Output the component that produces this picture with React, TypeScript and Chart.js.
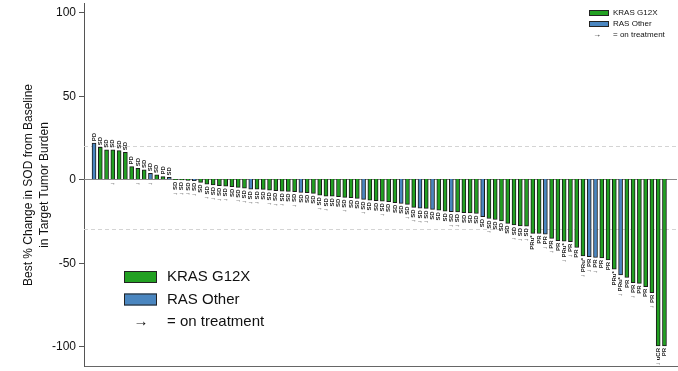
import React, { useEffect, useRef } from "react";
import { Chart, registerables } from "chart.js";

Chart.register(...registerables);

// Best % change in SOD, sorted (waterfall), one value per patient
const bestChange: number[] = [
  21.5, 19, 17.5, 17.5, 17, 16, 7.5, 6.5, 5.5, 3.5, 2.5, 1.5, 1,
  -0.3, -0.5, -0.8, -1, -2, -3, -3.5, -4, -4.2, -4.6, -5, -5.5, -6, -6, -6.2, -6.6, -7, -7.2, -7.4, -7.6,
  -8, -8.2, -8.6, -9.6, -10.2, -10.3, -10.6, -11, -11.2, -11.6, -12.2, -12.6, -13, -13.2, -13.6, -14.2, -14.6,
  -15.2, -17, -17.5, -17.6, -18.2, -18.6, -19.2, -19.6, -19.7, -20.2, -20.3, -20.6, -22.6, -23.6, -24.2, -25,
  -26.5, -27.5, -28, -28.2, -32.5, -32.6, -33, -35.5, -36.9, -37.2, -37.5, -41, -46, -46.5, -47, -47.2, -48.5,
  -54, -57.5, -59, -62, -62.5, -64.5, -68, -100, -100,
];

// patient numbers (1-based) with a RAS mutation other than KRAS G12X
const rasOtherPatients: number[] = [1, 10, 13, 17, 26, 34, 44, 50, 53, 55, 58, 63, 73, 80, 81, 85];

// best overall response label per patient
const responses: string[] = [
  "PD", "SD", "SD", "SD", "SD", "SD", "PD", "SD", "SD", "SD", "SD", "PD", "SD",
  "SD", "SD", "SD", "SD", "SD", "SD", "SD", "SD", "SD", "SD", "SD", "SD", "SD", "SD", "SD", "SD", "SD", "SD", "SD", "SD",
  "SD", "SD", "SD", "SD", "SD", "SD", "SD", "SD", "SD", "SD", "SD", "SD", "SD", "SD", "SD", "SD", "SD",
  "SD", "SD", "SD", "SD", "SD", "SD", "SD", "SD", "SD", "SD", "SD", "SD", "SD", "SD", "SD", "SD",
  "SD", "SD", "SD", "SD", "PRu*", "PR", "PR", "PR", "PR", "PRu*", "PR", "PR", "PRu*", "PR", "PR", "PR", "PR",
  "PRu*", "PRu*", "PR", "PR", "PR", "PR", "PR", "uCR", "PR",
];

// patients still on treatment
const onTreatment: number[] = [
  4, 8, 10, 14, 15, 16, 17, 19, 20, 21, 22, 24, 25, 26, 27, 29, 30, 31, 33, 37, 38, 41, 44, 47,
  51, 52, 53, 54, 58, 59, 64, 68, 69, 70, 73, 74, 76, 77, 79, 80, 81, 85, 87, 90, 91,
];

const yTicks: number[] = [-100, -50, 0, 50, 100];
const dashedRefLines: number[] = [20, -30];

const seriesNames: string[] = ["KRAS G12X", "RAS Other"];
const seriesColors: string[] = ["#22a022", "#4a86c0"];
const yTitle: string[] = ["Best % Change in SOD from Baseline", "in Target Tumor Burden"];

const FONT = "'Liberation Sans', Arial, sans-serif";

export default function App() {
  const ref = useRef<HTMLCanvasElement | null>(null);

  useEffect(() => {
    document.body.style.margin = "0";
    const canvas = ref.current!;
    const points = bestChange.map((v, i) => ({ x: i + 1, y: v }));
    const colors = bestChange.map((_, i) =>
      rasOtherPatients.includes(i + 1) ? seriesColors[1] : seriesColors[0]
    );

    const decorations = {
      id: "decorations",
      beforeDatasetsDraw(chart: any) {
        const { ctx, chartArea, scales } = chart;
        const y = scales.y;
        ctx.save();
        ctx.strokeStyle = "#d4d4d4";
        ctx.lineWidth = 1;
        ctx.setLineDash([4, 3]);
        dashedRefLines.forEach((v) => {
          const py = Math.round(y.getPixelForValue(v)) + 0.5;
          ctx.beginPath();
          ctx.moveTo(chartArea.left, py);
          ctx.lineTo(chartArea.right, py);
          ctx.stroke();
        });
        ctx.setLineDash([]);
        ctx.strokeStyle = "#8a8a8a";
        const pz = Math.round(y.getPixelForValue(0)) + 0.5;
        ctx.beginPath();
        ctx.moveTo(chartArea.left, pz);
        ctx.lineTo(chartArea.right, pz);
        ctx.stroke();
        // y ticks and labels
        ctx.strokeStyle = "#555";
        ctx.fillStyle = "#111";
        ctx.font = `12px ${FONT}`;
        ctx.textAlign = "right";
        ctx.textBaseline = "middle";
        yTicks.forEach((v) => {
          const py = Math.round(y.getPixelForValue(v)) + 0.5;
          ctx.beginPath();
          ctx.moveTo(chartArea.left - 5, py);
          ctx.lineTo(chartArea.left, py);
          ctx.stroke();
          ctx.fillText(String(v), chartArea.left - 8, py);
        });
        ctx.restore();
      },
      afterDatasetsDraw(chart: any) {
        const { ctx, scales } = chart;
        const x = scales.x;
        const y = scales.y;
        ctx.save();
        ctx.fillStyle = "#222";
        bestChange.forEach((v, i) => {
          const px = x.getPixelForValue(i + 1);
          const label = responses[i];
          ctx.font = `bold 6px ${FONT}`;
          const w = ctx.measureText(label).width;
          const arrow = onTreatment.includes(i + 1);
          if (v >= 0) {
            const top = y.getPixelForValue(v) - 2;
            ctx.save();
            ctx.translate(px, top);
            ctx.rotate(-Math.PI / 2);
            ctx.textAlign = "left";
            ctx.textBaseline = "middle";
            ctx.fillText(label, 0, 0);
            ctx.restore();
            if (arrow) {
              ctx.font = `6px ${FONT}`;
              ctx.textAlign = "center";
              ctx.textBaseline = "middle";
              ctx.fillText("\u2192", px, y.getPixelForValue(0) + 4);
            }
          } else {
            const bot = y.getPixelForValue(v) + 2;
            ctx.save();
            ctx.translate(px, bot);
            ctx.rotate(-Math.PI / 2);
            ctx.textAlign = "right";
            ctx.textBaseline = "middle";
            ctx.fillText(label, 0, 0);
            ctx.restore();
            if (arrow) {
              ctx.font = `6px ${FONT}`;
              ctx.textAlign = "center";
              ctx.textBaseline = "middle";
              ctx.fillText("\u2192", px, bot + w + 3);
            }
          }
        });
        ctx.restore();
      },
      afterDraw(chart: any) {
        const { ctx } = chart;
        ctx.save();
        ctx.fillStyle = "#111";
        ctx.font = `12px ${FONT}`;
        ctx.textAlign = "center";
        ctx.textBaseline = "middle";
        [29, 45].forEach((tx, k) => {
          ctx.save();
          ctx.translate(tx, 185);
          ctx.rotate(-Math.PI / 2);
          ctx.fillText(yTitle[k], 0, 0);
          ctx.restore();
        });
        const drawLegend = (bx: number, by: number, bw: number, bh: number, tx: number, gap: number, fs: number, arrowX: number) => {
          ctx.font = `${fs}px ${FONT}`;
          ctx.textAlign = "left";
          ctx.textBaseline = "middle";
          seriesNames.forEach((name, k) => {
            const yy = by + k * gap;
            ctx.fillStyle = seriesColors[k];
            ctx.fillRect(bx, yy - bh / 2, bw, bh);
            ctx.strokeStyle = "#222";
            ctx.lineWidth = 1;
            ctx.strokeRect(bx + 0.5, yy - bh / 2 + 0.5, bw - 1, bh - 1);
            ctx.fillStyle = "#111";
            ctx.fillText(name, tx, yy);
          });
          const ya = by + 2 * gap;
          ctx.textAlign = "center";
          ctx.fillText("\u2192", arrowX, ya);
          ctx.textAlign = "left";
          ctx.fillText("= on treatment", tx, ya);
        };
        drawLegend(589, 13, 20, 6, 613, 11, 8, 597);
        drawLegend(124, 277, 33, 12, 167, 22.5, 15, 141);
        ctx.restore();
      },
    };

    const chart = new Chart(canvas, {
      type: "bar",
      data: {
        datasets: [
          {
            data: points as any,
            backgroundColor: colors,
            borderColor: "#1a1a1a",
            borderWidth: 1,
            barThickness: 4,
          },
        ],
      },
      options: {
        responsive: false,
        animation: false,
        events: [],
        layout: { padding: { top: 3, right: 1, left: 0, bottom: 0 } },
        plugins: { legend: { display: false }, tooltip: { enabled: false } },
        scales: {
          x: {
            type: "linear",
            offset: false,
            min: -0.6,
            max: 94,
            ticks: { display: false },
            grid: { display: false, drawTicks: false },
            border: { display: true, color: "#666", width: 1 },
            afterFit: (s: any) => { s.height = 5; },
          },
          y: {
            min: -112,
            max: 105.5,
            afterBuildTicks: (s: any) => { s.ticks = yTicks.map((v) => ({ value: v })); },
            ticks: { display: false },
            grid: { display: false, drawTicks: false },
            border: { display: true, color: "#555", width: 1 },
            afterFit: (s: any) => { s.width = 84; },
          },
        },
      },
      plugins: [decorations],
    });
    return () => chart.destroy();
  }, []);

  return (
    <div style={{ position: "relative", width: 678, height: 371, background: "#fff" }}>
      <canvas ref={ref} width={678} height={371} style={{ display: "block" }} />
    </div>
  );
}
